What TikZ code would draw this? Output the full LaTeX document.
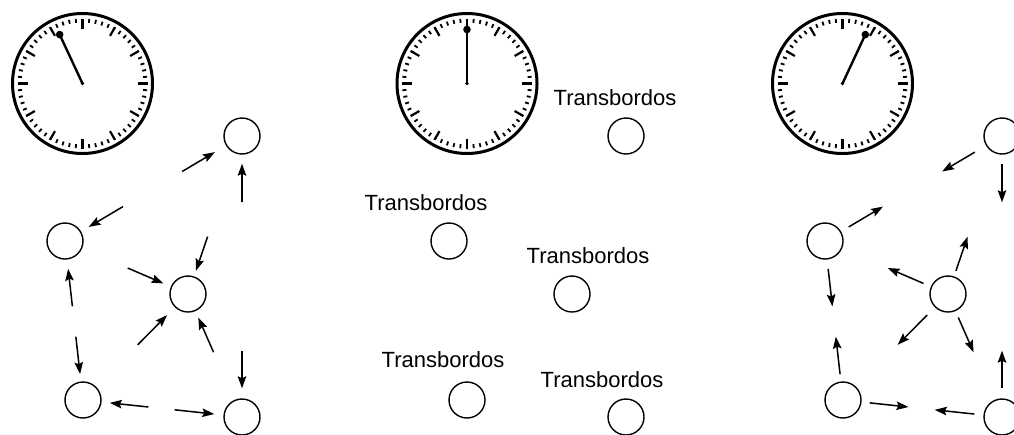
\documentclass[tikz,border=0pt]{standalone}
\usepackage{fontspec}
\setmainfont{Liberation Sans}
\usetikzlibrary{arrows.meta,positioning}

\tikzset{
  stop/.style={circle,draw,line width=1.4pt,minimum size=36pt,inner sep=0pt},
  hub/.style={font=\fontsize{22}{24}\selectfont,inner sep=0pt},
}

\begin{document}
\begin{tikzpicture}[x=1pt,y=-1pt,>={Stealth[length=12pt,width=8.5pt,inset=2pt]},
                    line width=1.5pt]
  \useasboundingbox (0,0) rectangle (1014,434);

  % clocks
  \foreach \cx/\ang in {82.5/-115, 467/-90, 842.5/-65}{
    \begin{scope}[shift={(\cx,83.5)}]
      \draw[line width=3pt] (0,0) circle (70);
      \foreach \m in {0,...,59}
        \draw[line width=1.8pt] (\m*6:61) -- (\m*6:65);
      \foreach \h in {0,...,11}
        \draw[line width=2.2pt] (\h*30:55) -- (\h*30:65);
      \draw[line width=2.4pt] (0,0) -- (\ang:54);
      \fill (\ang:54) circle (3.8);
      \fill (0,0) circle (1.8);
    \end{scope}
  }

  % stops
  \foreach \dx/\p in {0/1, 384/2, 760/3}{
    \node[stop] (a\p) at ({242+\dx},136) {};
    \node[stop] (b\p) at ({65+\dx},241)  {};
    \node[stop] (c\p) at ({188+\dx},294) {};
    \node[stop] (d\p) at ({83+\dx},400)  {};
    \node[stop] (e\p) at ({242+\dx},417) {};
  }

  \node[hub, above=11pt of a2, xshift=-11pt] {Transbordos};
  \node[hub, above=11pt of b2, xshift=-23pt] {Transbordos};
  \node[hub, above=11pt of c2, xshift=16pt]  {Transbordos};
  \node[hub, above=13pt of d2, xshift=-24pt] {Transbordos};
  \node[hub, above=10pt of e2, xshift=-24pt] {Transbordos};

  % arriving (left) and leaving (right)
  \foreach \s/\t/\a/\b in {b/a/117.5/12.9, e/a/196/9, a/b/119.7/8.9,
                           a/c/87.6/5.8, b/c/49.6/8, d/c/59/11, e/c/52/7,
                           d/b/75.5/9.3, b/d/77.6/7.3, a/e/196/10,
                           e/d/75.4/8.2, d/e/73.5/9.2}{
    \draw[->, shorten <=\a pt, shorten >=\b pt] (\s1) -- (\t1);
    \draw[<-, shorten <=\a pt, shorten >=\b pt] (\s3) -- (\t3);
  }
\end{tikzpicture}
\end{document}
